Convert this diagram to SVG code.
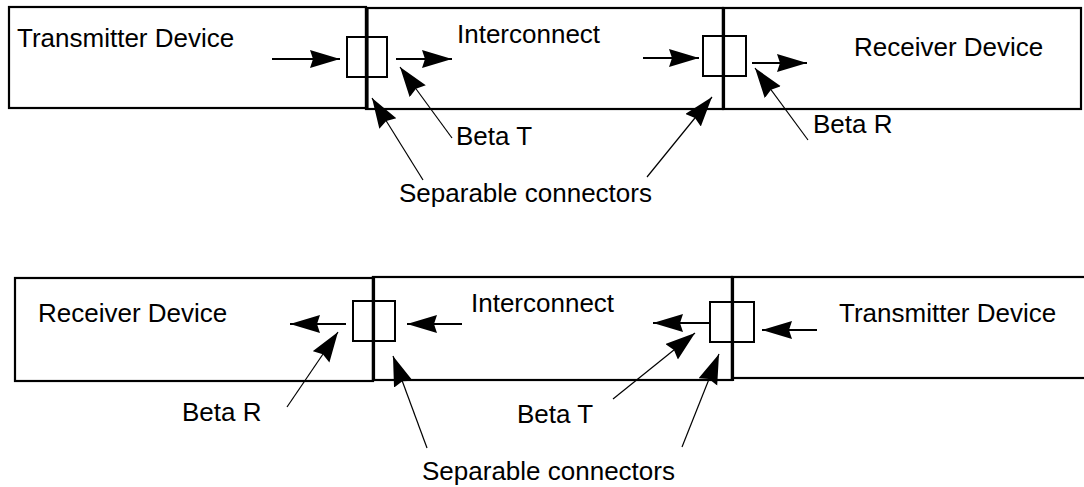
<svg xmlns="http://www.w3.org/2000/svg" width="1084" height="487" viewBox="0 0 1084 487">
  <style>
    .box { fill: none; stroke: #000; stroke-width: 2.2; }
    .wall { stroke: #000; stroke-width: 3.2; }
    .conn { fill: none; stroke: #000; stroke-width: 2; }
    .flow { stroke: #000; stroke-width: 2; fill: none; }
    .ptr { stroke: #000; stroke-width: 1.2; fill: none; }
    text { font-family: "Liberation Sans", Arial, sans-serif; font-size: 26px; fill: #000; }
  </style>
  <defs>
    <marker id="head" markerUnits="userSpaceOnUse" markerWidth="31" markerHeight="19" refX="30" refY="9" orient="auto">
      <path d="M0,0 L30,9 L0,18 L3,9 z" fill="#000"/>
    </marker>
    <marker id="phead" markerUnits="userSpaceOnUse" markerWidth="31" markerHeight="21" refX="30" refY="10" orient="auto">
      <path d="M0,0 L30,10 L0,20 L3,10 z" fill="#000"/>
    </marker>
  </defs>

  <!-- upper chain: transmitter -> interconnect -> receiver -->
  <g id="top-transmitter">
    <rect class="box" x="9" y="7" width="357" height="101"/>
    <text x="17" y="47">Transmitter Device</text>
  </g>
  <g id="top-interconnect">
    <rect class="box" x="366" y="8" width="357" height="101"/>
    <line class="wall" x1="367" y1="7" x2="367" y2="110"/>
    <line class="wall" x1="723.5" y1="7" x2="723.5" y2="110"/>
    <text x="457" y="43">Interconnect</text>
  </g>
  <g id="top-receiver">
    <rect class="box" x="723" y="8" width="358" height="101"/>
    <text x="854" y="56">Receiver Device</text>
  </g>
  <g id="top-connector-left">
    <rect class="conn" x="347" y="37" width="40" height="40"/>
  </g>
  <g id="top-connector-right">
    <rect class="conn" x="703" y="36" width="43" height="40"/>
  </g>
  <g id="top-labels">
    <text x="456" y="145">Beta T</text>
    <text x="813" y="133">Beta R</text>
    <text x="399" y="202">Separable connectors</text>
  </g>

  <!-- lower chain: receiver <- interconnect <- transmitter -->
  <g id="bottom-receiver">
    <rect class="box" x="15" y="278" width="358" height="103"/>
    <text x="38" y="322">Receiver Device</text>
  </g>
  <g id="bottom-interconnect">
    <rect class="box" x="373" y="277" width="359" height="103"/>
    <line class="wall" x1="373.5" y1="276" x2="373.5" y2="381"/>
    <line class="wall" x1="732.5" y1="276" x2="732.5" y2="381"/>
    <text x="471" y="312">Interconnect</text>
  </g>
  <g id="bottom-transmitter">
    <rect class="box" x="732" y="277" width="360" height="101"/>
    <text x="839" y="322">Transmitter Device</text>
  </g>
  <g id="bottom-connector-left">
    <rect class="conn" x="353" y="301" width="42" height="40"/>
  </g>
  <g id="bottom-connector-right">
    <rect class="conn" x="710" y="302" width="44" height="40"/>
  </g>
  <g id="bottom-labels">
    <text x="182" y="421">Beta R</text>
    <text x="517" y="423">Beta T</text>
    <text x="422" y="480">Separable connectors</text>
  </g>

  <g id="connectors">
    <!-- signal flow, upper chain -->
    <line class="flow" x1="272" y1="59" x2="340" y2="59" marker-end="url(#head)"/>
    <line class="flow" x1="396" y1="59" x2="452" y2="59" marker-end="url(#head)"/>
    <line class="flow" x1="643" y1="58" x2="699" y2="58" marker-end="url(#head)"/>
    <line class="flow" x1="752" y1="63" x2="807" y2="63" marker-end="url(#head)"/>
    <!-- label pointers, upper chain -->
    <line class="ptr" x1="452" y1="138" x2="400" y2="67" marker-end="url(#phead)"/>
    <line class="ptr" x1="808" y1="140" x2="755" y2="68" marker-end="url(#phead)"/>
    <line class="ptr" x1="423" y1="180" x2="372" y2="98" marker-end="url(#phead)"/>
    <line class="ptr" x1="647" y1="177" x2="712" y2="97" marker-end="url(#phead)"/>
    <!-- signal flow, lower chain -->
    <line class="flow" x1="346" y1="324" x2="290" y2="324" marker-end="url(#head)"/>
    <line class="flow" x1="462" y1="324" x2="407" y2="324" marker-end="url(#head)"/>
    <line class="flow" x1="710" y1="323" x2="653" y2="323" marker-end="url(#head)"/>
    <line class="flow" x1="817" y1="330" x2="762" y2="330" marker-end="url(#head)"/>
    <!-- label pointers, lower chain -->
    <line class="ptr" x1="287" y1="407" x2="338" y2="332" marker-end="url(#phead)"/>
    <line class="ptr" x1="427" y1="448" x2="393" y2="356" marker-end="url(#phead)"/>
    <line class="ptr" x1="613" y1="399" x2="695" y2="333" marker-end="url(#phead)"/>
    <line class="ptr" x1="682" y1="447" x2="719" y2="354" marker-end="url(#phead)"/>
  </g>
</svg>
